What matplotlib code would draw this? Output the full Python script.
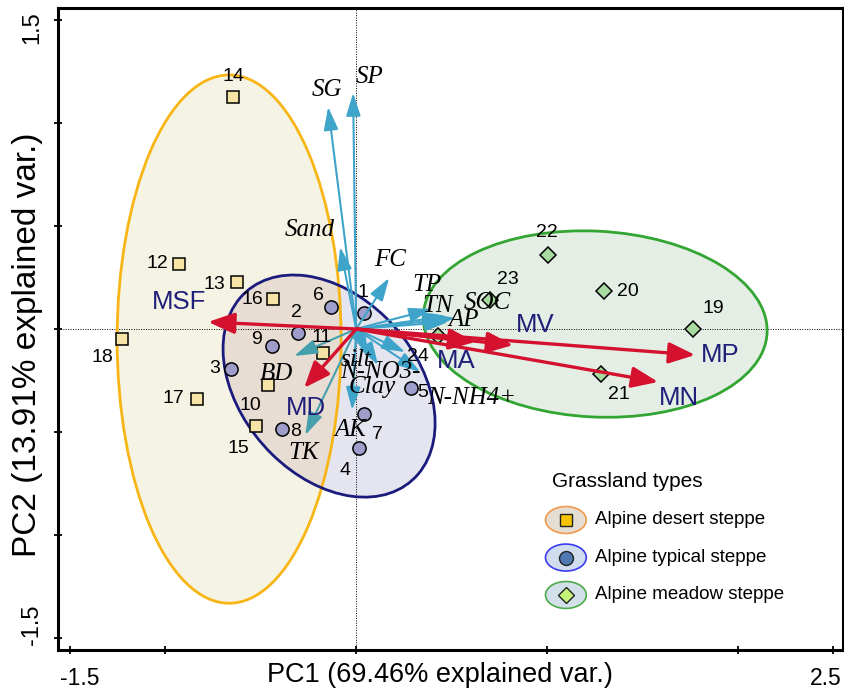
#!/usr/bin/env python3
"""PCA biplot of grassland sites: sample scores, loading arrows, group ellipses."""
import matplotlib

matplotlib.use("Agg")
import matplotlib.pyplot as plt
from matplotlib.patches import Ellipse
from matplotlib.lines import Line2D

# ---- sample scores (PC1, PC2) -------------------------------------------
desert_ids = ["10", "11", "12", "13", "14", "15", "16", "17", "18"]
desert_pc1 = [-0.461, -0.173, -0.928, -0.624, -0.645, -0.524, -0.435, -0.834, -1.227]
desert_pc2 = [-0.272, -0.117, 0.316, 0.228, 1.126, -0.471, 0.146, -0.340, -0.049]

typical_ids = ["1", "2", "3", "4", "5", "6", "7", "8", "9"]
typical_pc1 = [0.042, -0.304, -0.655, 0.016, 0.288, -0.131, 0.042, -0.388, -0.440]
typical_pc2 = [0.078, -0.019, -0.194, -0.578, -0.286, 0.107, -0.413, -0.485, -0.083]

meadow_ids = ["19", "20", "21", "22", "23", "24"]
meadow_pc1 = [1.767, 1.300, 1.284, 1.007, 0.702, 0.430]
meadow_pc2 = [0.000, 0.184, -0.218, 0.359, 0.141, -0.034]

# ---- loadings: soil variables (blue) and multifunctionality (red) --------
soil_vars = ["SP", "SG", "Sand", "FC", "TP", "TN", "SOC", "AP", "silt",
             "N-NO3-", "Clay", "N-NH4+", "AK", "BD", "TK"]
soil_pc1 = [-0.016, -0.147, -0.084, 0.173, 0.398, 0.472, 0.519, 0.482, 0.063,
            0.257, 0.115, 0.336, -0.021, -0.325, -0.267]
soil_pc2 = [1.146, 1.078, 0.398, 0.248, 0.097, 0.063, 0.053, 0.034, -0.126,
            -0.112, -0.175, -0.209, -0.393, -0.131, -0.515]

mf_vars = ["MSF", "MD", "MA", "MV", "MP", "MN"]
mf_pc1 = [-0.776, -0.273, 0.624, 0.823, 1.777, 1.583]
mf_pc2 = [0.034, -0.286, -0.063, -0.078, -0.126, -0.257]

# ---- group ellipses: centre, full width/height, angle ---------------------
ell_cx = [-0.666, -0.142, 1.253]
ell_cy = [-0.049, -0.277, 0.024]
ell_w = [1.174, 1.266, 1.804]
ell_h = [2.564, 0.892, 0.902]
ell_ang = [0.0, -42.4, -2.7]

group_names = ["Alpine desert steppe", "Alpine typical steppe", "Alpine meadow steppe"]

# ---- label offsets (points) ----------------------------------------------
soil_off = {"SP": (12, 11.5), "SG": (-1, 12), "Sand": (-22, 12), "FC": (1, 13),
            "TP": (-4, 17), "TN": (-6.5, 7), "SOC": (23, 11), "AP": (11, 1.5),
            "silt": (-9, -3.5), "N-NO3-": (-18, -14), "Clay": (-4, -16),
            "N-NH4+": (37, -19), "AK": (-1.5, -14.5), "BD": (-13, -13), "TK": (-1, -13)}
mf_off = {"MSF": (-21, 14.5), "MD": (1, -14.5), "MA": (-14, -14), "MV": (16, 14.5),
          "MP": (18, 0), "MN": (15, -11.5)}
pt_off = {"10": (-13, -14.5), "11": (-1, 11.5), "12": (-16, 0), "13": (-16.5, -1.5),
          "14": (0, 15), "15": (-13, -16), "16": (-15, -0.5), "17": (-17, 0.5),
          "18": (-14, -13), "1": (-1, 14.5), "2": (-1, 14.5), "3": (-12, 0),
          "4": (-10, -16), "5": (8.5, -3.5), "6": (-9.5, 8), "7": (9.5, -14.5),
          "8": (10, -2), "9": (-11, 5), "19": (14.5, 15), "20": (17, 0),
          "21": (13, -15), "22": (-1, 16), "23": (13, 14.5), "24": (-14.5, -15)}

SANS = "Liberation Sans"
SERIF = "Liberation Serif"

NAVY_TXT = "#1f1f7a"
BLUE_ARR = "#3fa4c9"
TEAL_ARR = "#45a0ab"
RED_ARR = "#d4112e"


def main():
    fig = plt.figure(figsize=(8.45, 6.97), dpi=100)
    ax = fig.add_axes([58 / 845, 1 - 650 / 697, 785 / 845, 642 / 697])
    ax.set_xlim(-1.563, 2.552)
    ax.set_ylim(-1.558, 1.558)

    # ellipses: fills first, then overlap tint, then outlines
    fills = ["#f5f4e4", "#e5e5ef", "#e5eee5"]
    edges = ["#f8b516", "#1b1b7d", "#33a533"]
    ells = []
    for i in range(3):
        e = Ellipse((ell_cx[i], ell_cy[i]), ell_w[i], ell_h[i], angle=ell_ang[i],
                    fc=fills[i], ec="none", zorder=1)
        ax.add_patch(e)
        ells.append(e)
    ov = Ellipse((ell_cx[1], ell_cy[1]), ell_w[1], ell_h[1], angle=ell_ang[1],
                 fc="#e8ddd3", ec="none", zorder=1.2)
    ax.add_patch(ov)
    ov.set_clip_path(ells[0])
    for i in range(3):
        ax.add_patch(Ellipse((ell_cx[i], ell_cy[i]), ell_w[i], ell_h[i], angle=ell_ang[i],
                             fc="none", ec=edges[i], lw=2.0, zorder=2))

    # zero lines
    ax.axhline(0, color="black", lw=0.7, ls=(0, (1, 1.5)), zorder=1.5)
    ax.axvline(0, color="black", lw=0.7, ls=(0, (1, 1.5)), zorder=1.5)

    # sample points
    groups = (
        (desert_ids, desert_pc1, desert_pc2, "s", 9, "#f6e3a6"),
        (typical_ids, typical_pc1, typical_pc2, "o", 9.5, "#9f9ecb"),
        (meadow_ids, meadow_pc1, meadow_pc2, "D", 8.3, "#a8dba0"),
    )
    for ids, xs, ys, mk, ms, fc in groups:
        ax.plot(xs, ys, ls="none", marker=mk, ms=ms, mfc=fc, mec="black", mew=1.1, zorder=3)
        for lab, x, y in zip(ids, xs, ys):
            ax.annotate(lab, (x, y), xytext=pt_off[lab], textcoords="offset points",
                        ha="center", va="center", fontsize=14, family=SANS,
                        color="black", zorder=6)

    # soil loading arrows
    for name, x, y in zip(soil_vars, soil_pc1, soil_pc2):
        col = TEAL_ARR if name in ("BD", "TK") else BLUE_ARR
        ax.annotate("", xy=(x, y), xytext=(0, 0),
                    arrowprops=dict(arrowstyle="-|>,head_length=0.7,head_width=0.22",
                                    color=col, lw=1.5, shrinkA=0, shrinkB=0,
                                    mutation_scale=20), zorder=4)
        ax.annotate(name, (x, y), xytext=soil_off[name], textcoords="offset points",
                    ha="center", va="center", fontsize=18, family=SERIF,
                    style="italic", color="black", zorder=6)

    # multifunctionality arrows
    for name, x, y in zip(mf_vars, mf_pc1, mf_pc2):
        ax.annotate("", xy=(x, y), xytext=(0, 0),
                    arrowprops=dict(arrowstyle="-|>,head_length=0.8,head_width=0.32",
                                    color=RED_ARR, lw=2.4, shrinkA=0, shrinkB=0,
                                    mutation_scale=20), zorder=4.5)
        ax.annotate(name, (x, y), xytext=mf_off[name], textcoords="offset points",
                    ha="center", va="center", fontsize=18.5, family=SANS,
                    color=NAVY_TXT, zorder=6)

    # axes frame, ticks and labels
    for sp in ax.spines.values():
        sp.set_linewidth(2.2)
    ax.set_xticks([-1.5, -1, 0, 1, 2, 2.5])
    ax.set_yticks([-1.5, -1, -0.5, 0, 0.5, 1, 1.5])
    ax.set_xticklabels([])
    ax.set_yticklabels([])
    ax.tick_params(direction="inout", length=6, width=1.3)
    xt = ax.get_xaxis_transform()
    yt = ax.get_yaxis_transform()
    ax.text(-1.447, -0.027, "-1.5", transform=xt, ha="center", va="top",
            fontsize=16.5, family=SANS)
    ax.text(2.464, -0.027, "2.5", transform=xt, ha="center", va="top",
            fontsize=16.5, family=SANS)
    ax.text(-0.019, 1.461, "1.5", transform=yt, ha="right", va="center",
            rotation=90, fontsize=17, family=SANS)
    ax.text(-0.019, -1.437, "-1.5", transform=yt, ha="right", va="center",
            rotation=90, fontsize=17, family=SANS)

    ax.set_xlabel("PC1 (69.46% explained var.)", fontsize=19.5, family=SANS)
    ax.xaxis.set_label_coords(0.487, -0.019)
    ax.set_ylabel("PC2 (13.91% explained var.)", fontsize=24, family=SANS)
    ax.yaxis.set_label_coords(-0.019, 0.475)

    # legend drawn by hand: ellipse key with the group marker inside
    ax.text(0.629, 0.263, "Grassland types", transform=ax.transAxes, ha="left",
            va="center", fontsize=15, family=SANS, zorder=7)
    key_fc = ["#e4ddd1", "#d0ddee", "#d2e0ea"]
    key_ec = ["#f29a4c", "#3a3af0", "#4cab4c"]
    key_mk = [("s", 8, "#f6c400"), ("o", 10, "#5079b4"), ("D", 8, "#c6f47b")]
    key_y = [0.2025, 0.144, 0.0857]
    for i, name in enumerate(group_names):
        ax.add_patch(Ellipse((0.647, key_y[i]), 0.052, 0.042, transform=ax.transAxes,
                             fc=key_fc[i], ec=key_ec[i], lw=1.2, zorder=7))
        mk, ms, fc = key_mk[i]
        ax.add_line(Line2D([0.647], [key_y[i]], transform=ax.transAxes, ls="none",
                           marker=mk, ms=ms, mfc=fc, mec="#222222", mew=1.0, zorder=8))
        ax.text(0.684, key_y[i], name, transform=ax.transAxes, ha="left", va="center",
                fontsize=13.5, family=SANS, zorder=8)

    fig.savefig("out.png", dpi=100)


if __name__ == "__main__":
    main()
